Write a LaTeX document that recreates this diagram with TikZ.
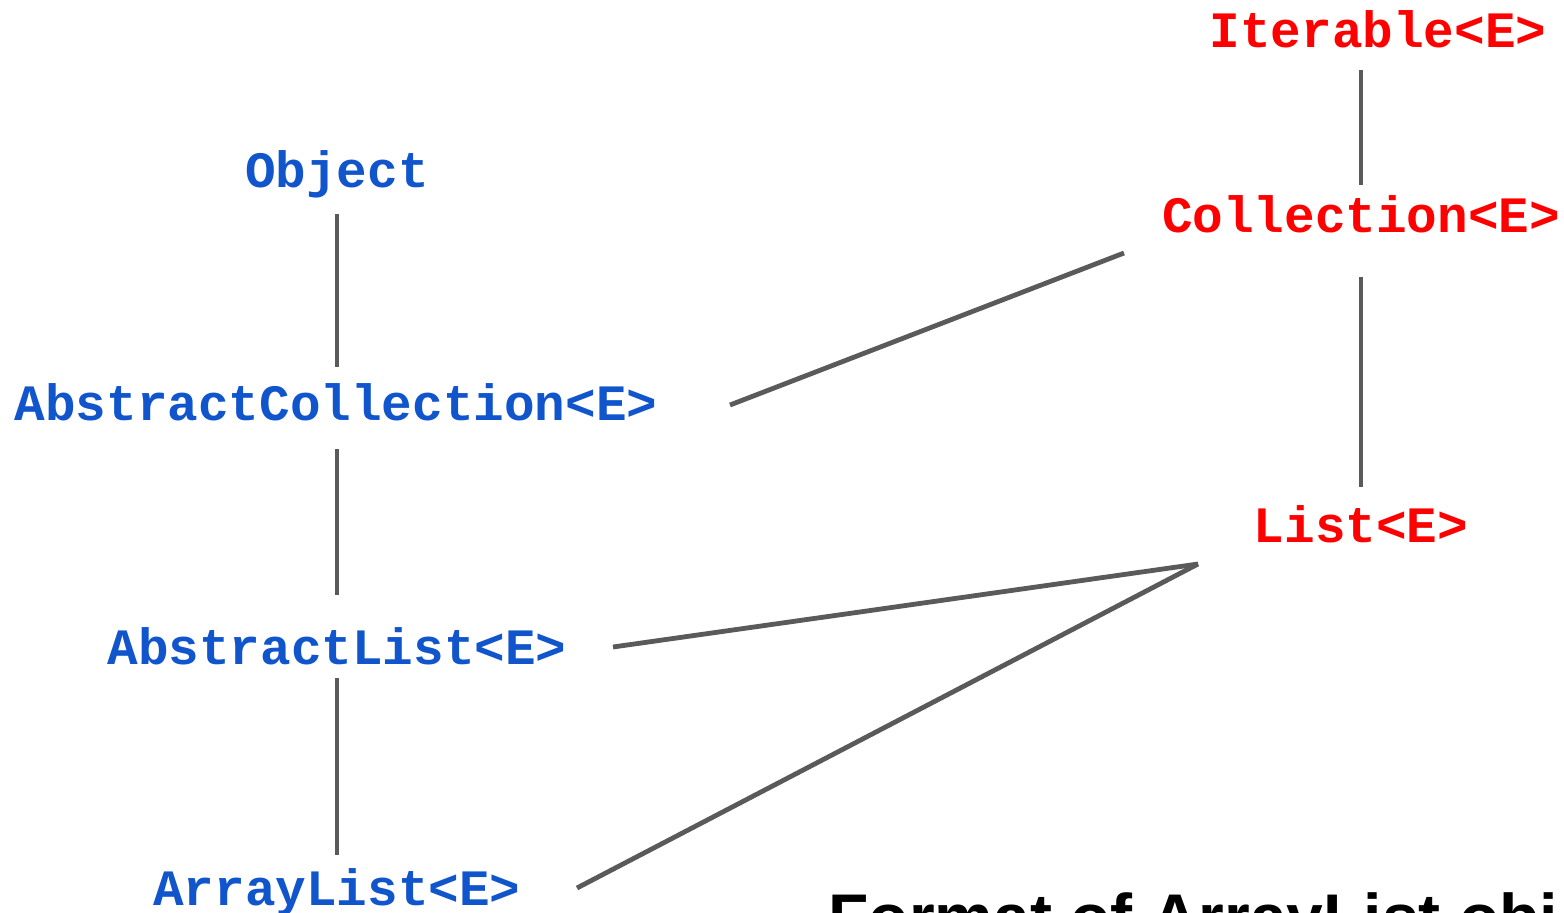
\documentclass[tikz,border=0pt]{standalone}
\usepackage{fontspec}
\setmainfont{Liberation Sans}
\newfontfamily\codefont{Liberation Mono}
\definecolor{clsblue}{HTML}{1155CC}
\definecolor{ifred}{HTML}{FF0000}
\definecolor{linegray}{HTML}{5A5A5A}
\begin{document}
\begin{tikzpicture}[x=0.5pt,y=-0.5pt,
  cls/.style={anchor=base,inner sep=0pt,text=clsblue,font=\codefont\bfseries\fontsize{25.5pt}{28pt}\selectfont},
  ifc/.style={anchor=base,inner sep=0pt,text=ifred,font=\codefont\bfseries\fontsize{25.5pt}{28pt}\selectfont},
  link/.style={draw=linegray,line width=2.4pt}]
\useasboundingbox (0,0) rectangle (1564,912);
\clip (0,0) rectangle (1564,912);
% nodes
\node[ifc] (iter) at (1378,47) {Iterable<E>};
\node[ifc] (coll) at (1361,232) {Collection<E>};
\node[ifc] (list) at (1361,542) {List<E>};
\node[cls] (obj) at (337,187) {Object};
\node[cls] (acoll) at (336,420) {AbstractCollection<E>};
\node[cls] (alist) at (337,664) {AbstractList<E>};
\node[cls] (arr) at (337,905) {ArrayList<E>};
\node[anchor=base west,inner sep=0pt,font=\bfseries\fontsize{33pt}{36pt}\selectfont] (cap) at (828,940) {Format of ArrayList obj};
% connector ends
\coordinate (iterS) at (1361,70);
\coordinate (collN) at (1361,185);
\coordinate (collS) at (1361,277);
\coordinate (listN) at (1361,487);
\coordinate (collW) at (1124,253);
\coordinate (listW) at (1198,564);
\coordinate (objS) at (337,214);
\coordinate (acollN) at (337,367);
\coordinate (acollS) at (337,449);
\coordinate (acollE) at (730,405);
\coordinate (alistN) at (337,595);
\coordinate (alistS) at (337,678);
\coordinate (alistE) at (613,647);
\coordinate (arrN) at (337,855);
\coordinate (arrE) at (577,888);
% connectors
\draw[link] (iterS) -- (collN);
\draw[link] (collS) -- (listN);
\draw[link] (objS) -- (acollN);
\draw[link] (acollS) -- (alistN);
\draw[link] (alistS) -- (arrN);
\draw[link] (acollE) -- (collW);
\draw[link] (alistE) -- (listW);
\draw[link] (arrE) -- (listW);
\end{tikzpicture}
\end{document}
